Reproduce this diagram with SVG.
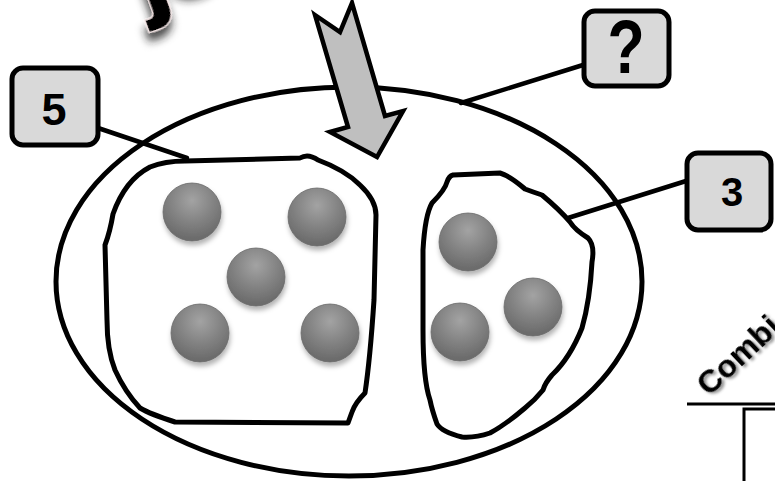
<svg xmlns="http://www.w3.org/2000/svg" width="775" height="481" viewBox="0 0 775 481">
<defs>
<style>
.ln{stroke:#000;stroke-width:5;fill:none;stroke-linejoin:round;stroke-linecap:round}
.cn{stroke:#000;stroke-width:4.5;fill:none;stroke-linecap:round}
.box{fill:#d9d9d9;stroke:#000;stroke-width:5}
.num{font-family:"Liberation Sans",Arial,sans-serif;font-weight:bold;fill:#000;text-anchor:middle}
.ball{fill:url(#bg);stroke:#6a6a6a;stroke-width:0.8;filter:url(#bs)}
</style>
<radialGradient id="bg" cx="50%" cy="30%" r="65%">
<stop offset="0" stop-color="#a3a3a3"/>
<stop offset="0.55" stop-color="#848484"/>
<stop offset="1" stop-color="#6c6c6c"/>
</radialGradient>
<filter id="bs" x="-30%" y="-30%" width="160%" height="170%">
<feDropShadow dx="1" dy="4" stdDeviation="2.5" flood-color="#000" flood-opacity="0.3"/>
</filter>
<filter id="ts" x="-30%" y="-30%" width="160%" height="180%">
<feDropShadow dx="-3" dy="8" stdDeviation="4" flood-color="#222" flood-opacity="0.8"/>
</filter>
<filter id="cs" x="-20%" y="-20%" width="140%" height="160%">
<feDropShadow dx="1" dy="3" stdDeviation="1.5" flood-color="#000" flood-opacity="0.45"/>
</filter>
</defs>
<rect width="775" height="481" fill="#fff"/>

<g id="title">
<text x="143" y="8" transform="rotate(-20 143 8)" letter-spacing="-8" font-family="'Liberation Sans',Arial,sans-serif" font-weight="bold" font-size="120" fill="#000" stroke="#f3e4e4" stroke-width="2.5" paint-order="stroke" filter="url(#ts)">jo</text>
</g>

<g id="whole">
<ellipse cx="349" cy="281.5" rx="293" ry="194.5" class="ln"/>
</g>

<g id="part-left">
<path class="ln" d="M185,161 L300,158 Q308,153 318,160 Q345,170 360,185 Q376,200 376,215 L374,300 Q370,360 365,393 Q355,403 352,412 L348,423 L175,422 Q150,414 140,408 Q125,392 115,370 Q107,350 107,320 L105,245 Q110,232 113,214 Q125,180 150,167 Q165,161 185,161 Z"/>
<circle class="ball" cx="192" cy="212" r="29"/>
<circle class="ball" cx="317" cy="217" r="29"/>
<circle class="ball" cx="256" cy="277" r="29"/>
<circle class="ball" cx="200" cy="333" r="29"/>
<circle class="ball" cx="330" cy="333" r="29"/>
</g>

<g id="part-right">
<path class="ln" d="M453,175 L500,173 Q510,176 525,189 Q533,192 542,195 Q560,210 570,222 Q575,230 588,238 Q595,245 592,262 Q590,300 582,328 Q570,358 552,375 Q545,383 543,390 Q535,400 525,408 Q505,425 490,433 Q475,438 462,437 Q442,432 437,424 Q432,410 430,400 Q423,380 423,330 L423,250 Q425,215 432,203 Q445,190 447,182 Q449,176 453,175 Z"/>
<circle class="ball" cx="468" cy="242" r="29"/>
<circle class="ball" cx="533" cy="307" r="29"/>
<circle class="ball" cx="460" cy="332" r="29"/>
</g>

<g id="connectors">
<line class="cn" x1="98" y1="128" x2="187" y2="158"/>
<line class="cn" x1="583" y1="65" x2="461" y2="103"/>
<line class="cn" x1="686" y1="181" x2="568" y2="218"/>
</g>

<g id="box-5">
<rect class="box" x="12" y="68" width="86" height="77" rx="11"/>
<text class="num" x="54" y="125" font-size="45">5</text>
</g>

<g id="box-q">
<rect class="box" x="584" y="11" width="85" height="75" rx="11"/>
<text class="num" transform="translate(626 73) scale(0.8 1)" x="0" y="0" font-size="76">?</text>
</g>

<g id="box-3">
<rect class="box" x="687" y="153" width="84" height="77" rx="11"/>
<text class="num" x="732" y="206" font-size="40">3</text>
</g>

<g id="arrow">
<polygon points="315,15 340,32 352,3 385,116 403,111 377,157 330,132 348,127" fill="#bfbfbf" stroke="#000" stroke-width="4.5" stroke-linejoin="miter"/>
</g>

<g id="combine">
<text x="709" y="397" transform="rotate(-43 709 397)" font-family="'Liberation Sans',Arial,sans-serif" font-weight="bold" font-size="32" fill="#000" filter="url(#cs)">Combi</text>
</g>

<g id="table">
<line x1="687" y1="404" x2="775" y2="404" stroke="#000" stroke-width="3"/>
<path d="M744,481 L744,409 L775,409" fill="none" stroke="#000" stroke-width="3"/>
</g>
</svg>
